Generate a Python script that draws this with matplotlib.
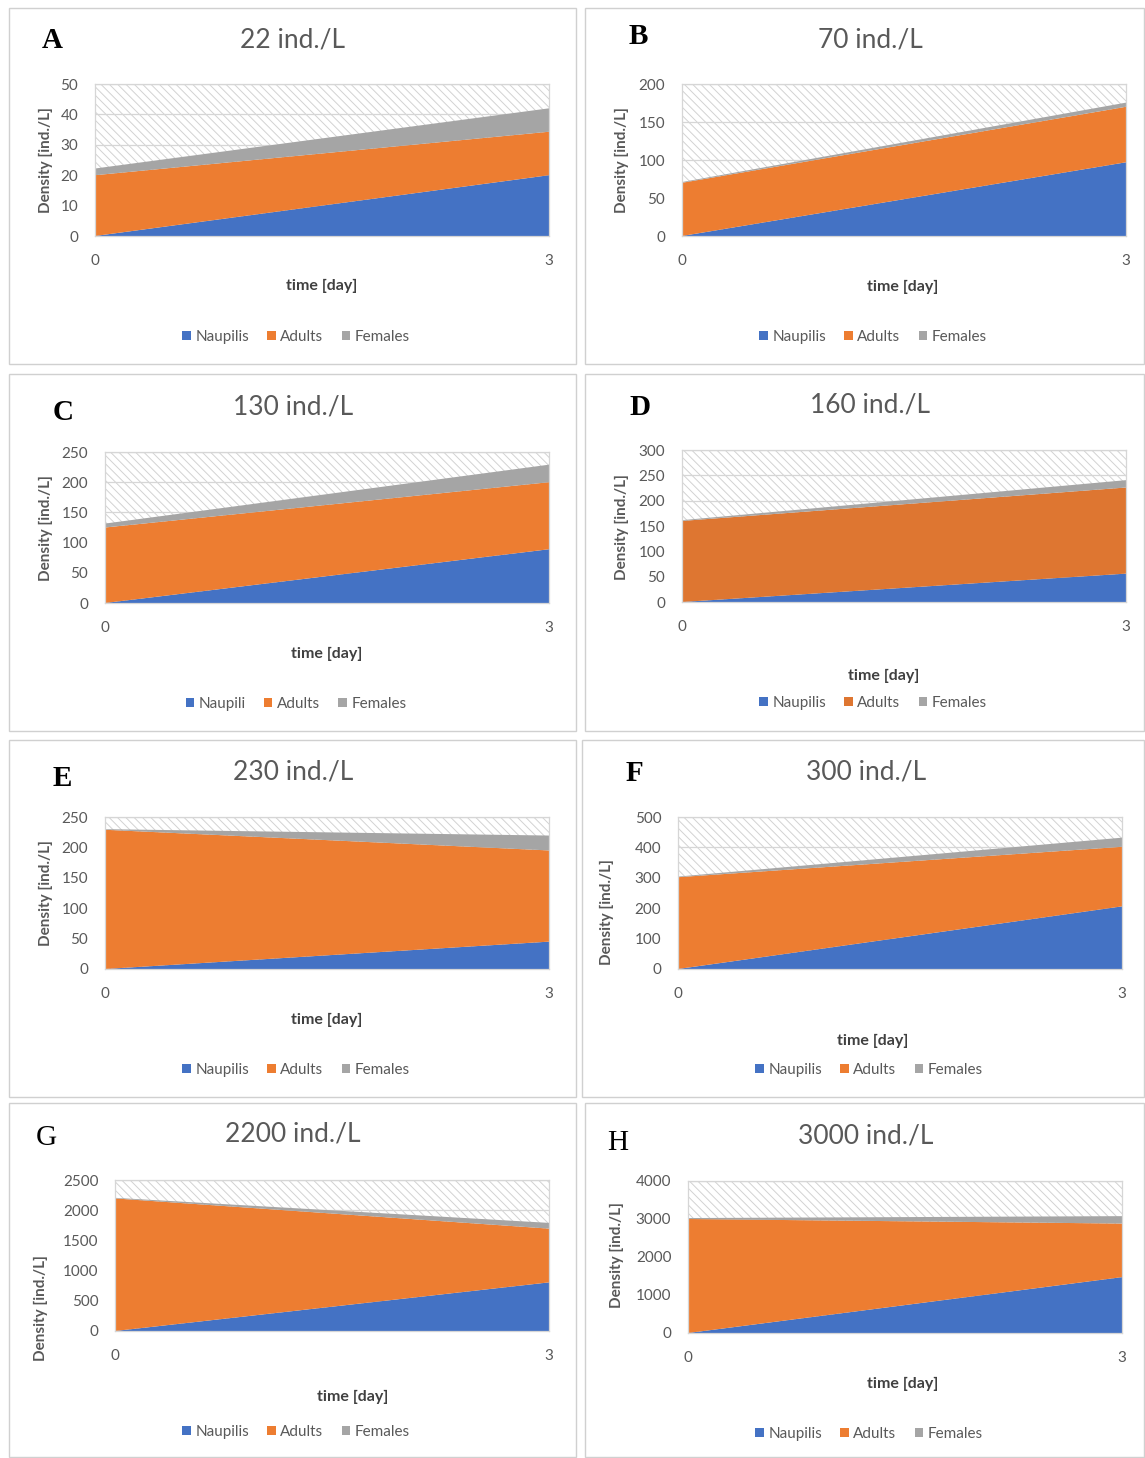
import matplotlib
matplotlib.use("Agg")
import matplotlib.pyplot as plt
from matplotlib.patches import Rectangle
import numpy as np

W, H = 1145, 1458
plt.rcParams['font.family'] = ['Lato', 'DejaVu Sans']
plt.rcParams['hatch.linewidth'] = 0.7

days = [0, 3]
series_names = ["Naupilis", "Adults", "Females"]

letters = ["A", "B", "C", "D", "E", "F", "G", "H"]
titles = ["22 ind./L", "70 ind./L", "130 ind./L", "160 ind./L",
          "230 ind./L", "300 ind./L", "2200 ind./L", "3000 ind./L"]

naupli_A = [0, 20];    adults_A = [20, 14.3];   females_A = [2.2, 7.7]
naupli_B = [0, 97];    adults_B = [70, 73];     females_B = [1, 5.5]
naupli_C = [0, 89];    adults_C = [125, 111];   females_C = [6.5, 29]
naupli_D = [0, 56];    adults_D = [160, 170];   females_D = [1.5, 14.5]
naupli_E = [0, 45];    adults_E = [229, 150];   females_E = [1, 24.5]
naupli_F = [0, 206];   adults_F = [302, 196];   females_F = [2, 30]
naupli_G = [0, 805];   adults_G = [2195, 890];  females_G = [10, 95]
naupli_H = [0, 1470];  adults_H = [3000, 1410]; females_H = [25, 195]

naupli = [naupli_A, naupli_B, naupli_C, naupli_D, naupli_E, naupli_F, naupli_G, naupli_H]
adults = [adults_A, adults_B, adults_C, adults_D, adults_E, adults_F, adults_G, adults_H]
females = [females_A, females_B, females_C, females_D, females_E, females_F, females_G, females_H]

yticks_list = [
    [0, 10, 20, 30, 40, 50],
    [0, 50, 100, 150, 200],
    [0, 50, 100, 150, 200, 250],
    [0, 50, 100, 150, 200, 250, 300],
    [0, 50, 100, 150, 200, 250],
    [0, 100, 200, 300, 400, 500],
    [0, 500, 1000, 1500, 2000, 2500],
    [0, 1000, 2000, 3000, 4000],
]
legend_labels = [series_names] * 8
legend_labels[2] = ["Naupili", "Adults", "Females"]

# layout (pixels)
boxes = [(9, 8, 576, 364), (585, 8, 1144, 364), (9, 374, 576, 731), (585, 374, 1144, 731),
         (9, 740, 576, 1097), (582, 740, 1144, 1097), (9, 1103, 576, 1457), (585, 1103, 1144, 1457)]
plots = [(95, 84, 549, 236), (682, 84, 1126, 236), (105, 452, 549, 603), (682, 450, 1126, 602),
         (105, 817, 549, 969), (678, 817, 1122, 969), (115, 1180, 549, 1331), (688, 1181, 1122, 1333)]
letter_pos = [(52, 40), (638, 37), (63, 413), (640, 407), (62, 778), (634, 773), (46, 1138), (618, 1143)]
letter_bold = [True, True, True, True, True, True, False, False]
title_pos = [(293, 40), (870, 40), (293, 407), (870, 405), (293, 772), (866, 772), (293, 1134), (866, 1136)]
ylabel_pos = [(46, 160), (622, 160), (46, 528), (622, 527), (46, 893), (607, 912), (41, 1308), (617, 1255)]
xlabel_pos = [(322, 286), (903, 287), (327, 654), (884, 676), (327, 1020), (873, 1041), (353, 1397), (903, 1384)]
legend_pos = [(296, 337), (873, 337), (296, 704), (873, 703), (296, 1070), (869, 1070), (296, 1432), (869, 1434)]

blue = "#4472C4"
orange = "#ED7D31"
orange_dark = "#DE7631"
gray = "#A5A5A5"

fig = plt.figure(figsize=(W / 100, H / 100), dpi=100)

def fx(x):
    return x / W

def fy(y):
    return 1 - y / H

for i in range(8):
    bx0, by0, bx1, by1 = boxes[i]
    fig.add_artist(Rectangle((fx(bx0), fy(by1)), fx(bx1 - bx0), (by1 - by0) / H,
                             transform=fig.transFigure, facecolor="white",
                             edgecolor="#D0D0D0", linewidth=1.0, zorder=0))
    x0, y0, x1, y1 = plots[i]
    ax = fig.add_axes([fx(x0), fy(y1), fx(x1 - x0), (y1 - y0) / H])
    ax.set_zorder(1)
    ax.patch.set_alpha(0)
    yt = yticks_list[i]
    ax.set_xlim(0, 3)
    ax.set_ylim(yt[0], yt[-1])
    ax.add_patch(Rectangle((0, 0), 1, 1, transform=ax.transAxes, facecolor="white",
                           edgecolor="#D2D2D2", hatch="\\\\\\\\", linewidth=0, zorder=0))
    for t in yt:
        ax.axhline(t, color="#D6D6D6", linewidth=0.9, zorder=0.5)
    ocol = orange_dark if i == 3 else orange
    polys = ax.stackplot(days, naupli[i], adults[i], females[i],
                         colors=[blue, ocol, gray], labels=legend_labels[i], zorder=2,
                         edgecolor="none", linewidth=0)
    for s in ax.spines.values():
        s.set_color("#D6D6D6")
        s.set_linewidth(0.9)
    ax.set_yticks(yt)
    ax.set_xticks(days)
    ax.set_xticklabels([str(d) for d in days])
    ax.tick_params(axis="both", length=0, labelsize=11, labelcolor="#595959")
    ax.tick_params(axis="y", pad=12)
    ax.tick_params(axis="x", pad=13)

    lx, ly = letter_pos[i]
    fig.text(fx(lx), fy(ly), letters[i], ha="center", va="center", fontsize=21,
             family="Liberation Serif", fontweight="bold" if letter_bold[i] else "normal",
             color="black")
    tx, ty = title_pos[i]
    fig.text(fx(tx), fy(ty), titles[i], ha="center", va="center", fontsize=19, color="#595959")
    yx, yy = ylabel_pos[i]
    fig.text(fx(yx), fy(yy), "Density [ind./L]", ha="center", va="center", rotation=90,
             fontsize=11, fontweight="bold", color="#595959")
    xx, xy = xlabel_pos[i]
    fig.text(fx(xx), fy(xy), "time [day]", ha="center", va="center",
             fontsize=11.5, fontweight="bold", color="#404040")
    gx, gy = legend_pos[i]
    fig.legend(handles=polys, labels=legend_labels[i], loc="center",
               bbox_to_anchor=(fx(gx), fy(gy)), ncol=3, frameon=False,
               fontsize=11, labelcolor="#595959", handlelength=0.55, handleheight=0.55,
               handletextpad=0.3, columnspacing=1.2, borderaxespad=0)

fig.savefig("out.png", dpi=100, facecolor="white")
